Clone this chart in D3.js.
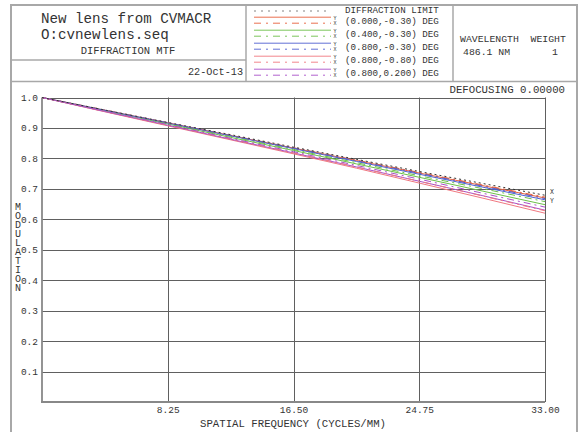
<!DOCTYPE html>
<html>
<head>
<meta charset="utf-8">
<script src="https://cdn.jsdelivr.net/npm/d3@7"></script>
<style>
  body { margin: 0; background: #fff; }
  text { font-family: "Liberation Mono", "DejaVu Sans Mono", monospace; fill: #333; }
</style>
</head>
<body>
<div id="chart"></div>
<script>
/// DATA
const freqs = [0, 4.125, 8.25, 12.375, 16.5, 20.625, 24.75, 28.875, 33];
const diffLimit = [1.000, 0.959, 0.918, 0.878, 0.837, 0.797, 0.757, 0.718, 0.679];
const fieldLabels = ['(0.000,-0.30) DEG', '(0.400,-0.30) DEG', '(0.800,-0.30) DEG', '(0.800,-0.80) DEG', '(0.800,0.200) DEG'];
const fieldColors = ['#e8603c', '#6cc04a', '#5060d0', '#f07880', '#a850c8'];
const tanY = [
  [1.000, 0.958, 0.917, 0.875, 0.834, 0.793, 0.752, 0.711, 0.670],
  [1.000, 0.956, 0.913, 0.869, 0.826, 0.782, 0.738, 0.693, 0.648],
  [1.000, 0.958, 0.916, 0.874, 0.832, 0.790, 0.748, 0.706, 0.664],
  [1.000, 0.953, 0.907, 0.861, 0.815, 0.768, 0.719, 0.670, 0.620],
  [1.000, 0.954, 0.909, 0.863, 0.818, 0.772, 0.725, 0.678, 0.630]
];
const sagX = [
  [1.000, 0.959, 0.917, 0.876, 0.835, 0.794, 0.754, 0.713, 0.673],
  [1.000, 0.957, 0.914, 0.872, 0.829, 0.786, 0.743, 0.701, 0.658],
  [1.000, 0.958, 0.917, 0.875, 0.834, 0.792, 0.751, 0.709, 0.668],
  [1.000, 0.954, 0.909, 0.864, 0.818, 0.772, 0.725, 0.677, 0.628],
  [1.000, 0.955, 0.911, 0.866, 0.822, 0.777, 0.732, 0.686, 0.640]
];
const yTicks = [0.1, 0.2, 0.3, 0.4, 0.5, 0.6, 0.7, 0.8, 0.9, 1.0];
const xTicks = [8.25, 16.5, 24.75, 33];

const width = 586, height = 432;
const svg = d3.select('#chart').append('svg')
  .attr('width', width).attr('height', height);

const frame = '#a8a8a8';

/// HEADER boxes
svg.append('rect').attr('x', 11).attr('y', 5).attr('width', 566).attr('height', 440)
  .attr('fill', 'none').attr('stroke', frame).attr('stroke-width', 2);
[[11, 60, 246, 60], [11, 81.5, 577, 81.5], [246, 5, 246, 81.5], [453, 5, 453, 81.5]]
  .forEach(l => svg.append('line').attr('x1', l[0]).attr('y1', l[1]).attr('x2', l[2]).attr('y2', l[3])
    .attr('stroke', frame).attr('stroke-width', 1.5));

svg.append('text').attr('x', 41).attr('y', 23).style('font-size', '14.2px').text('New lens from CVMACR');
svg.append('text').attr('x', 41).attr('y', 39).style('font-size', '14.2px').text('O:cvnewlens.seq');
svg.append('text').attr('x', 128).attr('y', 54).attr('text-anchor', 'middle').style('font-size', '10.5px').text('DIFFRACTION MTF');
svg.append('text').attr('x', 243).attr('y', 75).attr('text-anchor', 'end').style('font-size', '10.2px').text('22-Oct-13');

svg.append('text').attr('x', 460).attr('y', 41.5).style('font-size', '9.8px').attr('xml:space', 'preserve').text('WAVELENGTH  WEIGHT');
svg.append('text').attr('x', 463).attr('y', 54.5).style('font-size', '9.8px').text('486.1 NM');
svg.append('text').attr('x', 552).attr('y', 54.5).style('font-size', '9.8px').text('1');
svg.append('text').attr('x', 565).attr('y', 93).attr('text-anchor', 'end').style('font-size', '10.7px').text('DEFOCUSING 0.00000');

/// LEGEND
const lx1 = 254, lx2 = 331;
svg.append('line').attr('x1', lx1).attr('x2', lx2).attr('y1', 11).attr('y2', 11)
  .attr('stroke', '#777').attr('stroke-dasharray', '2,5').attr('stroke-width', 0.9);
svg.append('text').attr('x', 345).attr('y', 13).style('font-size', '9.2px').text('DIFFRACTION LIMIT');
fieldLabels.forEach((lab, i) => {
  const cy = 20.7 + i * 13;
  svg.append('line').attr('x1', lx1).attr('x2', lx2).attr('y1', cy - 3.5).attr('y2', cy - 3.5)
    .attr('stroke', fieldColors[i]).attr('stroke-width', 0.9);
  svg.append('line').attr('x1', lx1).attr('x2', lx2).attr('y1', cy + 2.5).attr('y2', cy + 2.5)
    .attr('stroke', fieldColors[i]).attr('stroke-width', 0.9).attr('stroke-dasharray', '7,5,2,5');
  const yx = svg.append('text').attr('x', 335).attr('y', cy - 1).attr('text-anchor', 'middle').style('font-size', '5px');
  yx.append('tspan').attr('x', 335).text('Y');
  yx.append('tspan').attr('x', 335).attr('dy', 5.5).text('X');
  svg.append('text').attr('x', 345).attr('y', cy + 3.3).style('font-size', '9.2px').text(lab);
});

/// SCALES
const x = d3.scaleLinear().domain([0, 33]).range([42, 545]);
const y = d3.scaleLinear().domain([0, 1]).range([402, 97.5]);

/// GRID
const grid = svg.append('g').attr('stroke', '#606060').attr('stroke-width', 1);
yTicks.forEach(v => grid.append('line')
  .attr('x1', x(0)).attr('x2', x(33)).attr('y1', Math.round(y(v)) + 0.5).attr('y2', Math.round(y(v)) + 0.5));
xTicks.forEach(v => grid.append('line')
  .attr('x1', Math.round(x(v)) + 0.5).attr('x2', Math.round(x(v)) + 0.5).attr('y1', y(0)).attr('y2', y(1)));

svg.append('line').attr('x1', x(0)).attr('x2', x(0)).attr('y1', y(1)).attr('y2', y(0))
  .attr('stroke', '#888').attr('stroke-width', 1.8);
svg.append('line').attr('x1', x(0) - 1).attr('x2', x(33)).attr('y1', y(0)).attr('y2', y(0))
  .attr('stroke', '#888').attr('stroke-width', 1.8);

/// AXES
const yAxis = svg.append('g').attr('transform', `translate(${x(0)},0)`)
  .call(d3.axisLeft(y).tickValues(yTicks).tickSize(0).tickPadding(4).tickFormat(d3.format('.1f')));
yAxis.select('.domain').remove();
yAxis.selectAll('text').style('font-family', '"Liberation Mono", monospace').style('font-size', '9.5px').attr('fill', '#333');

const xAxis = svg.append('g').attr('transform', `translate(0,${y(0)})`)
  .call(d3.axisBottom(x).tickValues(xTicks).tickSize(0).tickPadding(4).tickFormat(d3.format('.2f')));
xAxis.select('.domain').remove();
xAxis.selectAll('text').style('font-family', '"Liberation Mono", monospace').style('font-size', '9.5px').attr('fill', '#333');

svg.append('text').attr('x', 293).attr('y', 427).attr('text-anchor', 'middle')
  .style('font-size', '10.7px').text('SPATIAL FREQUENCY (CYCLES/MM)');

// stacked vertical title as a single text run
svg.append('text').attr('x', 18).attr('y', 202)
  .style('font-size', '10px')
  .style('writing-mode', 'vertical-rl')
  .style('text-orientation', 'upright')
  .style('letter-spacing', '-2px')
  .text('MODULATION');

/// CURVES
const line = d3.line().x((d, i) => x(freqs[i])).y(d => y(d));
const curves = svg.append('g').attr('fill', 'none').attr('stroke-width', 1);
tanY.forEach((s, i) => curves.append('path').attr('d', line(s)).attr('stroke', fieldColors[i]));
sagX.forEach((s, i) => curves.append('path').attr('d', line(s)).attr('stroke', fieldColors[i])
  .attr('stroke-dasharray', '7,4,2,4'));
curves.append('path').attr('d', line(diffLimit)).attr('stroke', '#333').attr('stroke-dasharray', '2,3');

svg.append('text').attr('x', 550).attr('y', y(0.683)).style('font-size', '6.5px').text('X');
svg.append('text').attr('x', 550).attr('y', y(0.655)).style('font-size', '6.5px').text('Y');
</script>
</body>
</html>
